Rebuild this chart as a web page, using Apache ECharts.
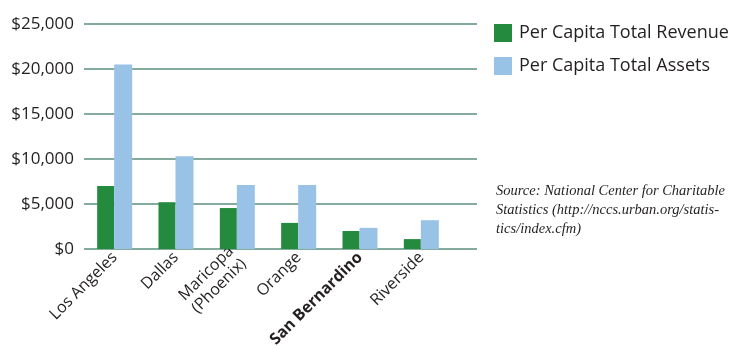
<!DOCTYPE html>
<html>
<head>
<meta charset="utf-8">
<script src="https://cdn.jsdelivr.net/npm/echarts@6/dist/echarts.min.js"></script>
<style>
  html, body { margin: 0; padding: 0; background: #fff; }
  #chart { width: 747px; height: 349px; }
</style>
</head>
<body>
<div id="chart"></div>
<script>
const counties = ['Los Angeles', 'Dallas', 'Maricopa\n(Phoenix)', 'Orange', 'San Bernardino', 'Riverside'];
const revenue = [7000, 5200, 4550, 2900, 2000, 1100];
const assets = [20500, 10300, 7100, 7100, 2350, 3200];
const yTicks = [0, 5000, 10000, 15000, 20000, 25000];

const font = 'Open Sans';
const ink = '#231f20';

const chart = echarts.init(document.getElementById('chart'));

chart.setOption({
    backgroundColor: '#fff',
    animation: false,
    legend: {
        orient: 'vertical', left: 489, top: 19,
        icon: 'rect', itemWidth: 18, itemHeight: 18, itemGap: 15,
        textStyle: { fontFamily: font, fontSize: 18, color: ink, padding: [0, 0, 0, 2] },
        data: ['Per Capita Total Revenue', 'Per Capita Total Assets']
    },
    // two grids: the wide one carries the gridlines, the narrower one the bars
    grid: [
        { left: 84, right: 270, top: 24, bottom: 100, outerBoundsMode: 'none', containLabel: false },
        { left: 84, width: 368, top: 24, bottom: 100, outerBoundsMode: 'none', containLabel: false }
    ],
    xAxis: [
        { gridIndex: 0, type: 'value', show: false, min: 0, max: 1 },
        {
            gridIndex: 1, type: 'category', data: counties,
            axisLine: { show: false }, axisTick: { show: false },
            axisLabel: {
                rotate: 45, margin: 6, interval: 0,
                fontFamily: font, fontSize: 16, color: ink, lineHeight: 18,
                formatter: v => v === 'San Bernardino' ? '{b|' + v + '}' : v,
                rich: { b: { fontFamily: font, fontSize: 16, fontWeight: 'bold', color: ink } }
            }
        }
    ],
    yAxis: [
        {
            gridIndex: 0, type: 'value', min: yTicks[0], max: yTicks[yTicks.length - 1], interval: 5000,
            axisLine: { show: false }, axisTick: { show: false },
            axisLabel: {
                margin: 10, fontFamily: font, fontSize: 17, color: ink,
                formatter: v => '$' + v.toLocaleString('en-US')
            },
            splitLine: { lineStyle: { color: '#84ab9d', width: 2 } }
        },
        { gridIndex: 1, type: 'value', min: 0, max: 25000, show: false }
    ],
    series: [
        {
            name: 'Per Capita Total Revenue', type: 'bar', xAxisIndex: 1, yAxisIndex: 1,
            data: revenue, barWidth: 17, barGap: '0%',
            itemStyle: { color: '#248a3d' }
        },
        {
            name: 'Per Capita Total Assets', type: 'bar', xAxisIndex: 1, yAxisIndex: 1,
            data: assets, barWidth: 18, barGap: '0%',
            itemStyle: { color: '#98c3e6' }
        }
    ],
    graphic: [{
        type: 'text', left: 496, top: 182,
        style: {
            text: 'Source: National Center for Charitable\nStatistics (http://nccs.urban.org/statis-\ntics/index.cfm)',
            font: 'italic 14.5px "Liberation Serif"', lineHeight: 19, fill: ink
        }
    }]
});
</script>
</body>
</html>
